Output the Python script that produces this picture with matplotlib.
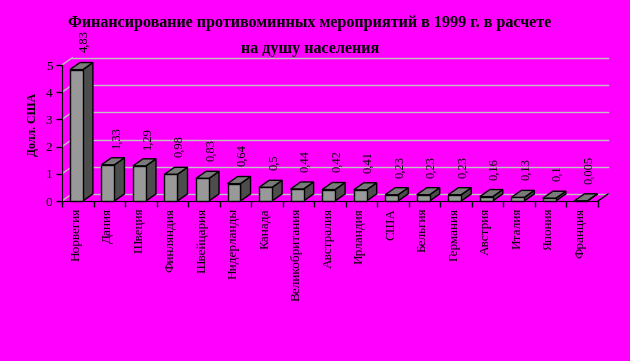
import numpy as np
import matplotlib
matplotlib.use("Agg")
import matplotlib.pyplot as plt
from matplotlib.patches import Polygon

countries = ["Норвегия", "Дания", "Швеция", "Финляндия", "Швейцария", "Нидерланды",
             "Канада", "Великобритания", "Австралия", "Ирландия", "США", "Бельгия",
             "Германия", "Австрия", "Италия", "Япония", "Франция"]
values = [4.83, 1.33, 1.29, 0.98, 0.83, 0.64, 0.5, 0.44, 0.42, 0.41,
          0.23, 0.23, 0.23, 0.16, 0.13, 0.1, 0.005]
value_labels = ["4,83", "1,33", "1,29", "0,98", "0,83", "0,64", "0,5", "0,44", "0,42",
                "0,41", "0,23", "0,23", "0,23", "0,16", "0,13", "0,1", "0,005"]
yticks = [0, 1, 2, 3, 4, 5]

plt.rcParams['font.family'] = ['Liberation Serif', 'DejaVu Serif']
bg = '#ff00ff'

W, H = 630, 361
fig = plt.figure(figsize=(W / 100, H / 100), dpi=100, facecolor=bg)
# front plane: x=-0.5 -> px 62, x=16.5 -> px 598 ; y=0 -> px 201, y=5 -> px 65
ax = fig.add_axes([62 / W, (H - 201) / H, (598 - 62) / W, (201 - 65) / H])
ax.set_facecolor('none')
n = len(values)
ax.set_xlim(-0.5, n - 0.5)
ax.set_ylim(0, 5)

dx, dy = 0.32, 0.26  # depth offset in data units
grid_c = '#c0c0c0'

# back wall gridlines + left diagonals
for k in yticks:
    ax.plot([-0.5 + dx, n - 0.5 + dx], [k + dy, k + dy], color=grid_c, lw=1,
            clip_on=False, zorder=1)
    ax.plot([-0.5, -0.5 + dx], [k, k + dy], color=grid_c, lw=1, clip_on=False, zorder=1)
ax.plot([n - 0.5, n - 0.5 + dx], [0, dy], color='black', lw=1, clip_on=False, zorder=1)

# 3D bars
bw = 0.41
for i, v in enumerate(values):
    x0 = i - 0.25
    x1 = x0 + bw
    front = Polygon([(x0, 0), (x1, 0), (x1, v), (x0, v)], closed=True,
                    facecolor='#999999', edgecolor='black', lw=1, zorder=3, clip_on=False)
    side = Polygon([(x1, 0), (x1 + dx, dy), (x1 + dx, v + dy), (x1, v)], closed=True,
                   facecolor='#4d4d4d', edgecolor='black', lw=1, zorder=3, clip_on=False)
    top = Polygon([(x0, v), (x1, v), (x1 + dx, v + dy), (x0 + dx, v + dy)], closed=True,
                  facecolor='#7a7a7a', edgecolor='black', lw=1, zorder=3, clip_on=False)
    for p in (side, top, front):
        ax.add_patch(p)
    ax.text(i + 0.22, v + dy + 0.37, value_labels[i], rotation=90, ha='center',
            va='bottom', fontsize=9, clip_on=False)

# axes
for s in ['top', 'right']:
    ax.spines[s].set_visible(False)
ax.spines['left'].set_color('black')
ax.spines['bottom'].set_color('black')
ax.spines['left'].set_zorder(4)
ax.spines['bottom'].set_zorder(4)
ax.set_yticks(yticks)
ax.set_yticklabels([str(t) for t in yticks], fontsize=9.5)
ax.tick_params(axis='y', direction='out', length=4, width=1, pad=3)
ax.set_xticks(np.arange(n) - 0.05)
ax.set_xticklabels(countries, rotation=90, fontsize=9.5, va='top', ha='center')
ax.set_xticks(np.arange(n + 1) - 0.5, minor=True)
ax.tick_params(axis='x', which='major', length=0, pad=5)
ax.tick_params(axis='x', which='minor', direction='out', length=4, width=1)

ax.set_ylabel("Долл. США", fontsize=8.5, fontweight='bold', va='center')
ax.yaxis.set_label_coords(-0.054, 0.56)

fig.text(310 / W, 1 - 23 / H, "Финансирование противоминных мероприятий в 1999 г. в расчете",
         ha='center', va='center', fontsize=11.6, fontweight='bold')
fig.text(310 / W, 1 - 49 / H, "на душу населения",
         ha='center', va='center', fontsize=11.6, fontweight='bold')

fig.savefig("out.png", dpi=100, facecolor=bg)
